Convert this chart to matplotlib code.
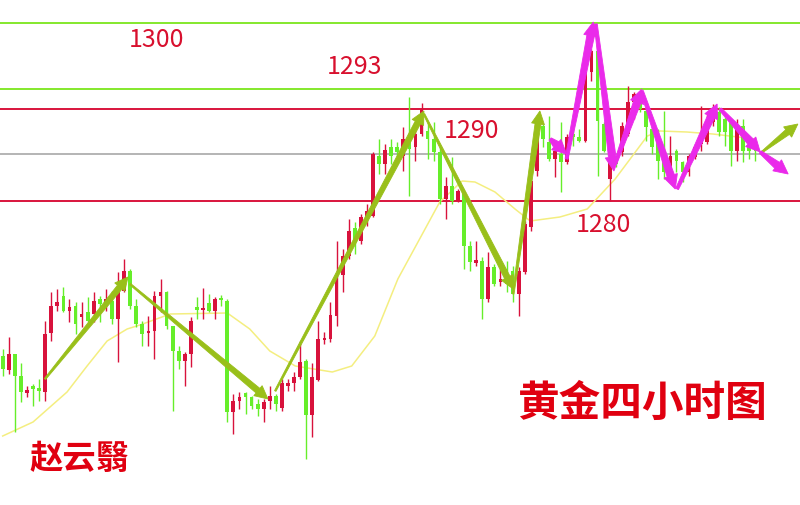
import numpy as np
import matplotlib
matplotlib.use("Agg")
import matplotlib.pyplot as plt
from matplotlib.patches import Polygon
from matplotlib.transforms import IdentityTransform

plt.rcParams['font.family'] = ['Noto Sans CJK SC', 'DejaVu Sans']

# 4小时K线 (开, 高, 低, 收)
opens = [1266.7, 1265.3, 1266.9, 1264.7, 1263.0, 1263.7, 1263.4, 1263.1, 1269.0, 1271.7,
         1272.7, 1271.2, 1271.7, 1270.6, 1271.1, 1270.9, 1272.4, 1271.7, 1272.2, 1270.4,
         1273.2, 1275.2, 1271.7, 1269.9, 1269.0, 1269.2, 1272.7, 1273.1, 1269.7, 1267.2,
         1266.2, 1266.9, 1271.6, 1271.3, 1272.0, 1271.2, 1272.4, 1272.2, 1261.1, 1262.2,
         1263.0, 1262.6, 1261.9, 1261.4, 1262.2, 1262.7, 1261.5, 1263.7, 1264.0, 1264.6,
         1266.2, 1260.8, 1264.3, 1268.3, 1268.4, 1270.7, 1274.8, 1276.7, 1279.5, 1278.2,
         1280.4, 1280.7, 1286.7, 1285.9, 1287.6, 1287.6, 1286.7, 1288.9, 1287.6, 1288.9,
         1289.2, 1288.4, 1287.1, 1282.4, 1283.7, 1282.2, 1283.1, 1277.7, 1276.0, 1276.2,
         1272.4, 1275.6, 1274.1, 1275.4, 1275.2, 1272.9, 1275.1, 1279.6, 1285.2, 1289.7,
         1288.1, 1286.4, 1286.9, 1286.1, 1288.9, 1288.6, 1288.2, 1295.1, 1297.2, 1289.9,
         1284.4, 1286.6, 1287.1, 1288.9, 1292.1, 1292.9, 1291.2, 1289.4, 1288.6, 1287.2,
         1285.1, 1287.2, 1286.1, 1285.1, 1286.6, 1287.9, 1288.1, 1290.1, 1291.1, 1290.4,
         1290.1, 1287.2, 1289.7, 1287.7, 1287.6]
highs = [1267.4, 1268.6, 1266.9, 1266.0, 1263.7, 1263.9, 1264.4, 1270.2, 1273.1, 1273.4,
         1273.6, 1272.4, 1272.1, 1272.1, 1272.6, 1273.1, 1272.7, 1273.4, 1273.2, 1275.1,
         1276.4, 1275.4, 1272.4, 1270.2, 1270.7, 1273.2, 1274.4, 1273.2, 1269.7, 1267.7,
         1267.1, 1270.6, 1272.6, 1273.5, 1272.9, 1272.6, 1272.8, 1272.4, 1262.9, 1263.1,
         1263.1, 1262.7, 1262.4, 1262.4, 1263.7, 1262.9, 1264.4, 1264.4, 1265.1, 1268.2,
         1266.4, 1266.0, 1270.2, 1269.1, 1272.1, 1278.2, 1277.4, 1280.4, 1280.1, 1280.9,
         1281.9, 1287.1, 1288.4, 1287.9, 1288.4, 1288.1, 1289.6, 1292.6, 1289.4, 1292.0,
         1290.1, 1290.1, 1287.6, 1284.6, 1286.6, 1283.4, 1283.2, 1278.2, 1278.2, 1276.6,
         1277.1, 1275.9, 1275.4, 1276.2, 1275.7, 1275.6, 1280.2, 1284.6, 1290.1, 1289.9,
         1290.7, 1287.7, 1290.1, 1288.9, 1289.7, 1289.4, 1295.2, 1297.4, 1297.4, 1290.1,
         1286.7, 1286.7, 1290.1, 1293.7, 1293.1, 1293.1, 1291.9, 1289.9, 1289.4, 1291.2,
         1288.7, 1287.4, 1286.2, 1286.9, 1287.9, 1291.7, 1290.9, 1291.9, 1291.6, 1290.6,
         1290.2, 1290.4, 1290.4, 1288.1, 1287.7]
lows = [1264.7, 1264.9, 1259.1, 1262.1, 1262.6, 1261.7, 1262.2, 1262.2, 1268.2, 1271.2,
        1271.1, 1270.1, 1268.9, 1269.6, 1270.1, 1270.1, 1270.1, 1271.2, 1269.9, 1266.1,
        1273.1, 1271.4, 1269.6, 1267.7, 1267.7, 1266.4, 1271.1, 1269.4, 1261.2, 1265.4,
        1263.7, 1265.6, 1270.4, 1270.4, 1271.1, 1270.4, 1271.7, 1260.1, 1258.9, 1261.4,
        1260.9, 1261.4, 1260.7, 1260.1, 1261.4, 1261.2, 1261.2, 1263.2, 1263.2, 1264.4,
        1256.4, 1258.6, 1264.2, 1267.9, 1268.1, 1269.7, 1273.1, 1276.4, 1276.9, 1277.9,
        1279.7, 1280.6, 1284.9, 1284.9, 1285.9, 1286.6, 1285.2, 1282.7, 1286.2, 1288.7,
        1286.4, 1286.2, 1281.9, 1280.4, 1281.9, 1282.1, 1275.4, 1275.2, 1275.7, 1270.4,
        1272.1, 1273.7, 1273.7, 1273.1, 1272.1, 1270.7, 1274.9, 1279.2, 1284.7, 1287.6,
        1286.2, 1284.6, 1283.1, 1285.9, 1287.7, 1288.1, 1288.1, 1294.2, 1284.7, 1287.1,
        1282.2, 1285.6, 1286.7, 1288.7, 1290.4, 1291.1, 1288.2, 1286.9, 1284.4, 1284.4,
        1284.9, 1285.1, 1284.1, 1284.7, 1286.4, 1287.2, 1287.9, 1289.7, 1288.7, 1287.7,
        1285.7, 1286.2, 1286.1, 1286.4, 1286.2]
closes = [1265.4, 1266.9, 1264.7, 1263.1, 1263.3, 1263.4, 1263.2, 1268.9, 1271.7, 1272.1,
          1271.2, 1271.6, 1269.9, 1270.9, 1270.2, 1272.2, 1271.9, 1272.4, 1270.4, 1273.4,
          1275.2, 1271.7, 1269.9, 1268.9, 1269.2, 1272.7, 1273.1, 1269.7, 1267.2, 1266.2,
          1266.9, 1270.2, 1271.3, 1271.4, 1271.2, 1272.4, 1272.3, 1261.1, 1262.2, 1262.6,
          1262.6, 1261.7, 1261.4, 1262.1, 1262.7, 1261.9, 1264.0, 1263.9, 1264.6, 1266.1,
          1260.8, 1264.6, 1268.4, 1268.5, 1270.8, 1274.7, 1276.7, 1279.2, 1278.1, 1280.6,
          1281.2, 1286.9, 1285.9, 1287.3, 1286.7, 1287.1, 1288.4, 1287.4, 1288.9, 1291.4,
          1288.4, 1287.1, 1282.4, 1283.7, 1282.2, 1283.2, 1277.7, 1276.1, 1276.3, 1272.4,
          1275.6, 1273.9, 1274.4, 1273.9, 1272.9, 1275.2, 1279.9, 1284.2, 1289.7, 1288.4,
          1286.4, 1287.2, 1286.1, 1288.6, 1288.6, 1288.2, 1295.1, 1297.2, 1290.2, 1287.2,
          1286.4, 1285.9, 1289.7, 1292.1, 1292.9, 1291.4, 1289.6, 1287.6, 1286.2, 1285.1,
          1286.7, 1286.2, 1285.1, 1286.7, 1287.6, 1288.2, 1290.2, 1291.4, 1289.1, 1289.1,
          1287.2, 1289.7, 1287.2, 1287.2, 1287.2]

# 均线 (K线序号, 价格)
ma_idx = [0, 5.0, 10.6, 13.9, 17.2, 20.5, 22.6, 27.6, 37.0, 40.7, 44.0, 48.2, 54.3, 57.5,
          61.3, 65.1, 72.0, 75.7, 77.8, 81.1, 84.4, 86.9, 91.8, 96.3, 100.9, 106.2, 108.3,
          112.7, 117.0, 123.9]
ma_val = [1258.7, 1260.1, 1263.1, 1265.7, 1268.2, 1269.4, 1269.8, 1270.9, 1271.0, 1269.4,
          1267.2, 1265.7, 1265.1, 1265.7, 1268.7, 1274.4, 1282.1, 1284.2, 1284.1, 1283.1,
          1281.4, 1280.2, 1280.6, 1281.4, 1284.4, 1288.7, 1289.2, 1289.1, 1288.9, 1288.4]

# 水平线
green_levels = [1300.0, 1293.4]
red_levels = [1291.4, 1282.2]
gray_levels = [1286.9]

# 价位标注
level_text = ['1300', '1293', '1290', '1280']
level_text_x = [25.4, 58.0, 77.3, 98.9]
level_text_y = [1298.4, 1295.7, 1289.3, 1279.9]

# 走势箭头 (起点序号, 起点价, 终点序号, 终点价)
olive_arrows = [(6.97, 1264.4, 20.64, 1274.6),
                (20.97, 1273.9, 43.7, 1262.4),
                (44.9, 1263.2, 69.4, 1291.2),
                (69.4, 1290.9, 84.1, 1273.4),
                (84.1, 1272.9, 88.5, 1291.2),
                (125.1, 1287.1, 131.0, 1289.9)]
pink_arrows = [(90.2, 1288.4, 92.9, 1286.9),
               (92.9, 1286.4, 97.3, 1300.1),
               (97.7, 1299.9, 100.7, 1285.2),
               (100.9, 1285.9, 105.3, 1293.4),
               (105.3, 1293.2, 110.8, 1283.4),
               (111.1, 1283.4, 117.7, 1291.9),
               (118.2, 1291.4, 124.8, 1287.1),
               (124.8, 1287.1, 129.4, 1284.9)]

fig = plt.figure(figsize=(8, 5.06), dpi=100)
ax = fig.add_axes([0, 0, 1, 1])
ax.set_xlim(-0.445, 131.35)
ax.set_ylim(1251.8, 1302.4)
ax.axis('off')


def taper_arrow(ax, x0, y0, x1, y1, color, w0, w1, hw, hl):
    # 细尾粗头的箭头, 在像素坐标里画
    p0 = ax.transData.transform((x0, y0))
    p1 = ax.transData.transform((x1, y1))
    d = p1 - p0
    L = np.hypot(d[0], d[1])
    u = d / L
    n = np.array([-u[1], u[0]])
    b = p1 - u * hl
    pts = [p0 + n * w0, b + n * w1, b + n * hw, p1,
           b - n * hw, b - n * w1, p0 - n * w0]
    ax.add_patch(Polygon(pts, closed=True, transform=IdentityTransform(),
                         fc=color, ec=color, lw=0.6, zorder=6))


for lv in green_levels:
    ax.axhline(lv, color='#84e82c', lw=1.4, zorder=1)
for lv in red_levels:
    ax.axhline(lv, color='#d9143c', lw=1.4, zorder=1)
for lv in gray_levels:
    ax.axhline(lv, color='#a8a8a8', lw=1.2, zorder=1)

ax.plot(ma_idx, ma_val, color='#f4ee80', lw=1.1, zorder=2)

o = np.array(opens)
h = np.array(highs)
l = np.array(lows)
c = np.array(closes)
x = np.arange(len(o))
up = c >= o
cols = np.where(up, '#d8123c', '#66ee2a')
ax.vlines(x, l, h, colors=cols, lw=1.0, zorder=3)
body = np.abs(c - o)
body = np.maximum(body, 0.25)
ax.bar(x, body, bottom=np.minimum(o, c), width=0.62, color=cols, zorder=4)

for x0, y0, x1, y1 in olive_arrows:
    taper_arrow(ax, x0, y0, x1, y1, '#99bf1a', 0.8, 3.0, 6.5, 13)
for x0, y0, x1, y1 in pink_arrows:
    taper_arrow(ax, x0, y0, x1, y1, '#ea2aea', 1.5, 3.8, 7.0, 14)

for t, tx, ty in zip(level_text, level_text_x, level_text_y):
    ax.text(tx, ty, t, color='#d8102e', fontsize=18, ha='center', va='center', zorder=7)

ax.text(105.3, 1262.0, '黄金四小时图', color='#e00010', fontsize=30, fontweight='bold',
        ha='center', va='center', zorder=7)
ax.text(12.6, 1256.4, '赵云翳', color='#e00010', fontsize=24, fontweight='bold',
        ha='center', va='center', zorder=7)

plt.savefig('out.png', dpi=100)
